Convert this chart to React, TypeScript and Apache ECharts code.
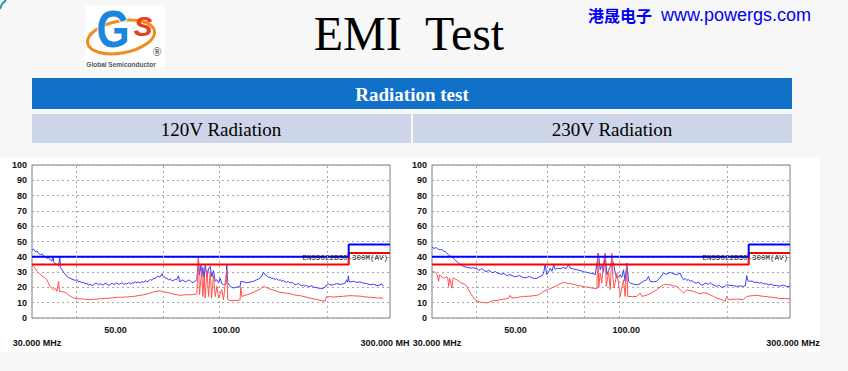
import React, { useEffect, useRef } from 'react';
import * as echarts from 'echarts';

// ---------- data (frequency MHz, level dBuV/m) ----------
const peak120: [number, number][] = [
  [30.0, 44.6], [30.3, 45], [30.7, 43.2], [31.0, 43.8], [31.3, 42.2], [31.7, 41.3], [32.0, 42.0], [32.3, 40.6],
  [32.7, 40.2], [33.0, 39], [33.4, 39.5], [33.7, 38], [34.1, 37.2], [34.4, 40.6], [34.5, 36.5], [34.7, 36],
  [35.0, 35.4], [35.2, 35], [35.6, 34], [35.9, 40], [36.0, 33], [36.4, 31.5], [37.0, 29], [37.6, 27],
  [38.2, 26.2], [38.8, 25.4], [39.6, 24.6], [40.1, 25.1], [40.5, 23.6], [40.9, 24], [41.3, 22.9], [41.8, 23.4],
  [42.2, 22.2], [42.7, 22.8], [43.1, 21.4], [43.6, 22.1], [44.1, 21.2], [44.6, 21.7], [45.1, 22.9], [45.6, 22.6],
  [46.0, 21.6], [46.5, 22.4], [47.0, 21.9], [47.5, 21.5], [48.0, 22.8], [48.5, 22.3], [49.0, 21.4], [49.6, 21.7],
  [50.2, 22.9], [50.8, 21.8], [51.3, 22.6], [51.8, 22.8], [52.4, 21.9], [52.9, 22.4], [53.5, 23.1], [54.1, 22.0],
  [54.7, 22.6], [55.2, 22.1], [55.8, 23.2], [56.5, 22.3], [57.1, 23.0], [57.7, 22.8], [58.3, 23.7], [58.9, 22.9],
  [59.5, 23.6], [60.2, 22.8], [60.8, 23.9], [61.5, 23.3], [62.1, 24.4], [62.8, 23.7], [63.5, 24.2], [64.2, 25.2],
  [64.9, 24.6], [65.6, 26], [66.3, 25.7], [67.0, 27.1], [67.5, 27.3], [68.2, 26.6], [69.2, 29], [69.6, 27.4],
  [70.2, 27.2], [70.8, 26.0], [71.4, 26], [72.2, 25.0], [73.0, 25.5], [73.8, 24.4], [74.6, 24.6], [75.4, 25.3],
  [76.0, 25], [77.0, 27.6], [77.4, 24.2], [77.8, 23.5], [78.6, 24.9], [79.5, 24.5], [80.4, 23.6], [81.2, 24],
  [82.1, 24.8], [83.0, 24.4], [83.9, 23.2], [84.8, 23.3], [85.7, 24.2], [86.6, 25],
  [87.5, 39], [88.1, 28], [88.9, 34.5], [89.4, 27], [90.0, 33], [90.8, 26], [91.4, 34.8], [92.4, 27],
  [93.4, 32], [94.4, 33.7], [95.4, 27], [96.4, 31], [97.5, 24], [98.5, 25], [99.6, 23], [100.6, 26],
  [101.7, 22.5], [102.8, 21.7], [104.5, 22.5], [105.0, 34.8], [105.7, 23], [107.3, 20.7], [109.6, 19.6], [112.0, 20.2],
  [114.4, 20.5], [114.9, 24], [117.0, 23.6], [119.4, 23], [122.0, 23.5], [124.6, 24], [127.3, 25], [130.1, 26],
  [131.5, 27.5], [133.0, 29.8], [134.5, 28.2], [135.8, 27.6], [137.3, 26.5], [138.8, 26.8], [140.3, 25.7], [141.8, 26],
  [143.3, 25.1], [144.8, 25.8], [146.4, 24.6], [148.0, 25], [149.6, 24.1], [151.2, 24.6], [152.8, 23.4], [154.4, 23.5],
  [156.1, 23.9], [157.8, 22.8], [159.5, 23.3], [161.2, 22.6], [163.0, 21.8], [164.7, 22], [166.4, 22.6], [168.2, 21.7],
  [170.0, 21.0], [171.9, 21.5], [173.7, 20.8], [175.6, 21.3], [177.5, 20.5], [179.4, 20.7], [181.4, 21.1], [183.3, 20.4],
  [185.3, 19.8], [187.3, 20], [189.3, 19.3], [191.3, 19.5], [193.4, 19.0], [195.5, 19.6], [197.6, 20], [199.7, 21.8],
  [201.9, 22.4], [205.0, 21.5], [208.5, 21.8], [213.0, 22.5], [217.6, 21.9], [222.3, 22.4], [225.0, 22.8], [227.1, 25],
  [228.5, 23.4], [229.5, 27.6], [230.5, 24.2], [232.0, 23.5], [237.1, 24], [242.2, 23.3], [247.4, 23.6], [252.7, 22.8],
  [258.2, 22.5], [263.8, 21.7], [269.5, 22.1], [275.4, 21.2], [281.3, 21.6], [284.3, 22.4], [287.4, 20.7],
];

const avg120: [number, number][] = [
  [30.0, 34.8], [30.3, 33.7], [30.7, 32.2], [31.0, 30.4], [31.5, 29], [32.0, 27.6], [32.5, 26.4], [33.0, 25],
  [33.4, 22.5], [33.7, 20.7], [34.1, 19.4], [34.5, 18.5], [34.9, 19.5], [35.2, 17.4], [35.6, 24], [35.8, 17.5],
  [36.4, 17.2], [37.2, 16.7], [37.8, 15.5], [38.4, 14.1], [39.2, 13.2], [40.1, 12.6], [41.8, 12.4], [42.7, 12],
  [44.6, 12.2], [46.5, 12.6], [49.6, 13], [51.8, 13.5], [55.2, 13.7], [57.7, 14.1], [61.5, 15.2], [64.2, 16.3],
  [66.0, 17.2], [68.4, 17.8], [70.0, 17.2], [71.4, 16.7], [74.6, 15.6], [77.8, 14.8], [80.5, 15.2], [83.0, 15.2],
  [86.6, 15.7],
  [87.5, 39.8], [88.1, 15.2], [89.4, 31.5], [90.0, 14], [90.8, 27.6], [91.4, 13], [92.4, 31.5], [93.4, 14],
  [94.4, 30.4], [95.2, 13], [96.4, 27.6], [97.5, 14], [98.5, 20.7], [99.6, 13], [101.7, 18.5], [102.8, 12],
  [105.0, 31.5], [105.7, 12], [107.3, 11.3], [110.0, 11.5], [113.2, 11.5], [114.4, 12], [114.9, 20.2], [115.7, 14.1],
  [119.0, 15], [122.0, 15.9], [127.3, 17.8], [130.1, 18.9], [133.0, 20.7], [135.8, 19.8], [138.8, 18.9], [144.8, 17.5],
  [148.0, 16.7], [154.4, 16.2], [157.8, 15.9], [161.2, 15.2], [168.2, 14.6], [175.6, 13.6], [179.4, 13], [187.3, 12.1],
  [191.3, 11.5], [197.6, 10.9], [199.7, 14.1], [208.5, 13.7], [222.3, 14.2], [232.0, 14.6], [247.4, 14.3], [258.2, 13.7],
  [275.4, 13.2], [287.4, 13],
];

const peak230: [number, number][] = [
  [30.0, 46.3], [30.4, 45.4], [30.7, 46], [31.0, 45.7], [31.3, 44.8], [31.7, 44.6], [32.0, 44.8], [32.3, 43.6],
  [32.7, 43.5], [33.0, 42.2], [33.4, 41.3], [33.7, 40.5], [34.1, 39.8], [34.5, 39], [34.9, 37.5], [35.2, 37],
  [35.6, 35.8], [36.0, 34.8], [36.4, 34.2], [36.8, 33.7], [37.6, 33.2], [38.4, 32.6], [39.2, 32.9], [40.1, 32],
  [40.5, 31.1], [40.9, 31.6], [41.3, 32.3], [41.8, 31.2], [42.2, 30.6], [42.7, 30.4], [43.1, 31.2], [43.6, 30.6],
  [44.1, 29.7], [44.6, 29.8], [45.1, 30.4], [45.6, 29.3], [46.3, 29.0], [47.0, 28.6], [47.7, 29.2], [48.5, 27.6],
  [49.3, 28.4], [50.2, 27.8], [51.0, 27.0], [51.8, 27.2], [52.6, 27.9], [53.5, 26.8], [54.4, 26.3], [55.2, 26.5],
  [56.1, 27.2], [57.0, 26.3], [58.0, 25.8], [58.9, 26], [59.8, 26.9], [60.8, 27.5], [61.5, 29.3],
  [62.1, 34.8], [62.8, 28.3], [63.5, 30], [64.2, 32.6], [64.9, 30.5], [65.6, 34.8], [66.3, 31.6], [67.0, 32.6],
  [68.4, 32.2], [69.9, 33], [71.0, 32.2], [72.2, 34.8], [73.0, 32.6], [74.6, 32], [76.2, 31.5], [77.8, 31],
  [79.5, 30.4], [81.2, 29.8], [83.0, 29.3], [84.8, 28.9], [85.7, 28.3],
  [87.5, 42.4], [88.5, 31.5], [89.4, 34.8], [90.4, 30.4], [91.4, 41.7], [92.4, 28.3], [93.4, 31.2], [94.4, 33.7],
  [95.4, 38], [96.4, 35.9], [97.5, 29.3], [98.5, 26], [99.6, 27], [100.6, 28.3], [101.7, 26.4], [102.8, 31.5],
  [103.9, 24], [105.0, 35.9], [106.2, 24], [107.3, 22.8], [109.6, 22.2], [112.0, 21.7], [114.4, 22.4], [116.8, 24],
  [119.4, 25], [120.7, 27.2], [122.0, 24], [124.6, 23.6], [127.3, 24], [130.1, 26.5], [133.0, 29.3], [135.8, 28.6],
  [138.8, 29.8], [141.8, 28.9], [144.8, 28.3], [148.0, 29.3], [149.6, 26.8], [151.2, 25], [152.8, 25.9], [154.4, 24.6],
  [156.1, 25.2], [157.8, 24], [159.5, 24.4], [161.2, 23.6], [163.0, 22.9], [164.7, 22.8], [166.4, 23.5], [168.2, 22.2],
  [170.0, 21.6], [171.9, 21.7], [173.7, 22.8], [175.6, 22.5], [177.5, 21.9], [179.4, 23.3], [181.4, 22.2], [183.3, 21.6],
  [185.3, 21.1], [187.3, 20.7], [189.3, 21.4], [191.3, 20.9], [193.4, 20.1], [195.5, 20.2], [197.6, 20.8], [199.7, 21.7],
  [204.0, 21.3], [208.5, 21.1], [213.0, 20.7], [217.6, 21], [222.3, 20.7], [225.0, 21.1], [227.1, 27.6], [228.5, 24.8],
  [229.5, 24], [235.0, 24.1], [238.5, 23.2], [242.2, 23.5], [246.0, 22.8], [250.0, 23.1], [254.0, 22.2], [258.2, 22.4],
  [262.0, 21.6], [266.0, 22.1], [270.5, 21.2], [275.4, 21.3], [281.0, 20.8], [287.4, 21.5], [293.5, 20.6], [300, 20.7],
];

const avg230: [number, number][] = [
  [30.0, 30.4], [30.7, 29.8], [31.0, 28.5], [31.3, 24], [31.5, 28.2], [31.7, 27.6], [32.3, 26], [32.7, 26.5],
  [33.0, 27], [33.2, 25.8], [33.4, 20.7], [33.6, 25.9], [33.7, 26], [34.1, 19.5], [34.3, 25.8], [34.5, 26],
  [35.2, 25], [36.0, 23.3], [36.6, 22.5], [37.2, 21.7], [37.8, 19.4], [38.4, 16.3], [39.0, 14], [39.6, 12],
  [40.1, 11.2], [40.9, 10.4], [41.8, 10.1], [42.7, 9.8], [43.6, 10.6], [44.6, 11.5], [45.6, 11.3], [46.5, 12],
  [47.5, 12.3], [48.5, 12.6], [49.1, 13], [49.6, 14.8], [50.2, 13], [51.8, 13.4], [54.1, 14.1], [56.5, 14.3],
  [58.9, 14.8], [60.2, 15.8], [61.5, 17.4], [63.5, 18.8], [65.6, 20.2], [67.7, 21.8], [69.9, 23.3], [71.4, 22.8],
  [73.0, 22.4], [75.4, 21.7], [77.8, 21], [80.4, 20.4], [83.0, 19.8], [86.6, 19.1],
  [87.2, 42.4], [87.7, 20], [88.5, 29.3], [89.4, 22.8], [90.4, 35.9], [91.4, 42.4], [92.0, 20.7], [93.4, 30.4],
  [94.4, 18.5], [95.4, 42.4], [96.0, 27.2], [96.8, 19.6], [98.5, 29.3], [99.6, 22.8], [100.6, 14.1], [102.8, 25],
  [103.9, 14.1], [105.0, 33.7], [105.7, 14.1], [109.0, 14], [112.0, 14.1], [114.4, 16.3], [115.7, 14.1], [119.0, 14.8],
  [122.0, 15.9], [124.6, 17.2], [127.3, 18.5], [130.1, 20.2], [133.0, 21.7], [135.8, 21.9], [138.8, 21.7], [141.8, 21],
  [144.8, 20.7], [148.0, 18.4], [151.2, 16.3], [154.4, 18.5], [157.8, 17.9], [161.2, 17.4], [164.7, 16.6], [168.2, 15.9],
  [171.9, 16.4], [175.6, 16.3], [179.4, 15.2], [183.3, 14.1], [187.3, 13.1], [191.3, 12.4], [195.5, 11.5], [197.6, 10.9],
  [199.7, 14.1], [201.9, 12], [208.5, 12.3], [213.0, 12.4], [222.3, 12], [227.1, 14.1], [235.0, 14.6], [242.2, 14.8],
  [252.0, 14.2], [263.8, 13.7], [281.3, 12.8], [300, 12.6],
];

const limitPeak: [number, number][] = [[30, 40], [230, 40], [230, 48], [300, 48]];
const limitAvg: [number, number][] = [[30, 35], [230, 35], [230, 42.5], [300, 42.5]];
const limitLabel = 'EN55022B30-300M(AV)';

const xTickFreqs = [30, 50, 100, 300];
const xTickLabels120 = ['30.000 MHz', '50.00', '100.00', '300.000 MH'];
const xTickLabels230 = ['30.000 MHz', '50.00', '100.00', '300.000 MHz'];
const vGrid120 = [40, 70, 100, 200];
const vGrid230 = [40, 63, 80, 100, 200];

const panelTitles = ['120V Radiation', '230V Radiation'];
const headerTitle = 'Radiation test';

// ---------- helpers ----------
const GRID_TOP = 165;
const GRID_H = 153;
const GRID_W = 358;
const DOT = [2, 3];
const labelFont = { fontFamily: 'Liberation Sans', fontWeight: 'bold' as const, fontSize: 9, color: '#111' };

function panel(i: number, left: number, peak: [number, number][], avg: [number, number][], vlines: number[], xLabels: string[], lastShift: number) {
  const grid = {
    left, top: GRID_TOP, width: GRID_W, height: GRID_H, show: true,
    backgroundColor: '#ffffff', borderColor: '#7c7c7c', borderWidth: 1,
  };
  const xAxis = {
    type: 'log', logBase: 10, min: 30, max: 300, gridIndex: i,
    axisLine: { show: false }, axisTick: { show: false }, axisLabel: { show: false },
    splitLine: { show: false }, minorTick: { show: false }, minorSplitLine: { show: false },
  };
  const yAxis = {
    type: 'value', min: 0, max: 100, interval: 10, gridIndex: i,
    axisLine: { show: false }, axisTick: { show: false },
    splitLine: { show: true, lineStyle: { type: DOT, color: '#a8a8a8', width: 1 } },
    axisLabel: { ...labelFont, margin: 5 },
  };
  const offsets = [[5, 13], [4, 0], [7, 0], [lastShift, 13]];
  const series: any[] = [
    {
      type: 'line', xAxisIndex: i, yAxisIndex: i, data: [], z: 1, silent: true,
      markLine: {
        silent: true, symbol: ['none', 'none'], label: { show: false },
        lineStyle: { type: DOT, color: '#a8a8a8', width: 1 },
        data: vlines.map((f) => ({ xAxis: f })),
      },
      markPoint: {
        silent: true, symbol: 'circle', symbolSize: 0,
        label: { show: true, position: 'bottom', distance: 7, formatter: '{b}', ...labelFont },
        data: xTickFreqs.map((f, k) => ({ name: xLabels[k], coord: [f, 0], label: { offset: offsets[k] } })),
      },
    },
    {
      type: 'line', name: 'peak', xAxisIndex: i, yAxisIndex: i, data: peak, symbol: 'none', z: 3,
      lineStyle: { color: '#3c3cff', width: 1 },
    },
    {
      type: 'line', name: 'avg', xAxisIndex: i, yAxisIndex: i, data: avg, symbol: 'none', z: 3,
      lineStyle: { color: '#ff5252', width: 1 },
    },
    {
      type: 'line', name: 'limitAvg', xAxisIndex: i, yAxisIndex: i, data: limitAvg, symbol: 'none', z: 4,
      lineStyle: { color: '#ff0000', width: 2 },
    },
    {
      type: 'line', name: 'limitPeak', xAxisIndex: i, yAxisIndex: i, data: limitPeak, symbol: 'none', z: 4,
      lineStyle: { color: '#0000ff', width: 2 },
      markPoint: {
        silent: true, symbol: 'circle', symbolSize: 0,
        label: {
          show: true, position: 'left', distance: 2, offset: [0, 1.5], formatter: '{b}',
          fontFamily: 'Liberation Mono', fontSize: 7.5, color: '#111',
        },
        data: [{ name: limitLabel, coord: [300, 40] }],
      },
    },
  ];
  return { grid, xAxis, yAxis, series };
}

export default function App() {
  const ref = useRef<HTMLDivElement>(null);
  useEffect(() => {
    if (!ref.current) return;
    const chart = echarts.init(ref.current, undefined, { renderer: 'svg' });
    const L = panel(0, 32, peak120, avg120, vGrid120, xTickLabels120, -5);
    const R = panel(1, 432, peak230, avg230, vGrid230, xTickLabels230, 3);
    const serif = '"Liberation Serif", "Times New Roman", serif';
    chart.setOption({
      animation: false,
      backgroundColor: '#f7f7f7',
      grid: [L.grid, R.grid],
      xAxis: [L.xAxis, R.xAxis],
      yAxis: [L.yAxis, R.yAxis],
      series: [...L.series, ...R.series],
      graphic: [
        // chart image backgrounds
        { type: 'rect', z: -10, shape: { x: 0, y: 157, width: 410, height: 195 }, style: { fill: '#ffffff' } },
        { type: 'rect', z: -10, shape: { x: 410, y: 157, width: 410, height: 195 }, style: { fill: '#ffffff' } },
        // corner decoration
        { type: 'polyline', shape: { points: [[0, 9], [2, 4], [6, 0]] }, style: { stroke: '#1f9e9e', lineWidth: 2, fill: 'none' } },
        // logo
        { type: 'rect', shape: { x: 85, y: 5, width: 80, height: 64 }, style: { fill: '#ffffff' } },
        { type: 'ellipse', x: 121, y: 37, rotation: 0.18, shape: { cx: 0, cy: 0, rx: 34, ry: 16 }, style: { fill: 'none', stroke: '#f28c1e', lineWidth: 3 } },
        { type: 'text', x: 113, y: 29, scaleX: 0.82, style: { text: 'G', font: 'bold 52px "Liberation Sans"', fill: '#1a86dc', align: 'center', verticalAlign: 'middle', stroke: '#ffffff', lineWidth: 2 } },
        { type: 'text', x: 143, y: 26, style: { text: 'S', font: 'italic bold 28px "Liberation Sans"', fill: '#e8401c', align: 'center', verticalAlign: 'middle' } },
        { type: 'text', x: 157, y: 52, style: { text: '®', font: '12px "Liberation Serif"', fill: '#333', align: 'center', verticalAlign: 'middle' } },
        { type: 'text', x: 121, y: 64, style: { text: 'Global Semiconductor', font: 'bold 6.5px "Liberation Sans"', fill: '#555', align: 'center', verticalAlign: 'middle' } },
        // title
        { type: 'text', x: 409, y: 33, style: { text: 'EMI\u00a0 Test', font: `48px ${serif}`, fill: '#000', align: 'center', verticalAlign: 'middle' } },
        // company
        { type: 'text', x: 588, y: 15, style: { text: '港晟电子', font: 'bold 16px "Noto Sans CJK SC"', fill: '#0000ee', align: 'left', verticalAlign: 'middle', shadowColor: '#9db4ff', shadowBlur: 4 } },
        { type: 'text', x: 661, y: 15, style: { text: 'www.powergs.com', font: '18px "Liberation Sans"', fill: '#0000ee', align: 'left', verticalAlign: 'middle', shadowColor: '#9db4ff', shadowBlur: 4 } },
        // table header
        { type: 'rect', shape: { x: 32, y: 78, width: 760, height: 31 }, style: { fill: '#1170c8' } },
        { type: 'text', x: 412, y: 94, style: { text: headerTitle, font: `bold 19px ${serif}`, fill: '#ffffff', align: 'center', verticalAlign: 'middle' } },
        { type: 'rect', shape: { x: 32, y: 114, width: 379, height: 29 }, style: { fill: '#cdd5e9' } },
        { type: 'rect', shape: { x: 413, y: 114, width: 379, height: 29 }, style: { fill: '#cdd5e9' } },
        { type: 'text', x: 221, y: 129, style: { text: panelTitles[0], font: `19px ${serif}`, fill: '#000', align: 'center', verticalAlign: 'middle' } },
        { type: 'text', x: 612, y: 129, style: { text: panelTitles[1], font: `19px ${serif}`, fill: '#000', align: 'center', verticalAlign: 'middle' } },
      ],
    });
    return () => chart.dispose();
  }, []);
  return <div ref={ref} style={{ position: 'absolute', left: 0, top: 0, width: 848, height: 371 }} />;
}
